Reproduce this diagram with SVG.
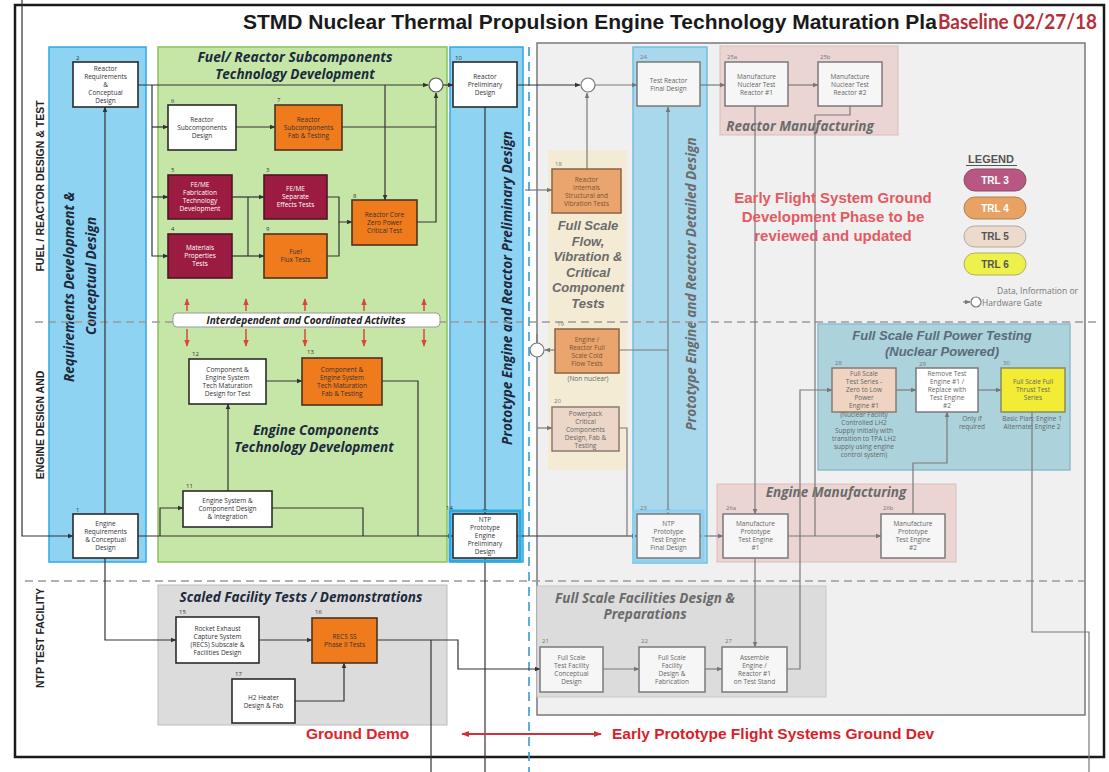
<svg xmlns="http://www.w3.org/2000/svg" width="1109" height="772" viewBox="0 0 1109 772">
<defs>
<style>
.lane{font-family:"Liberation Sans",Arial,sans-serif;font-weight:bold;font-size:10.5px;fill:#222;text-anchor:middle}
.sec{font-family:"Open Sans","Liberation Sans",sans-serif;font-weight:bold;font-style:italic;font-size:13.5px;fill:#1c2a3c;text-anchor:middle}
.sec2{font-family:"Liberation Sans",Arial,sans-serif;font-weight:bold;font-style:italic;font-size:13px;text-anchor:middle}
.secg{fill:#6b6b6b}
.nt{font-family:"Open Sans","Liberation Sans",sans-serif;font-size:6.5px;text-anchor:middle;fill:#333}
.ntw{fill:#fff}
.ntg{fill:#666}
.num{font-family:"Open Sans","Liberation Sans",sans-serif;font-size:6px;fill:#333}
.numg{fill:#777}
.bw{fill:#fff;stroke:#2b2b2b;stroke-width:1.6}
.bo{fill:#ef7b1c;stroke:#4a3420;stroke-width:1.6}
.bm{fill:#9b1c40;stroke:#4a1824;stroke-width:1.6}
.gw{fill:#f6f6f6;stroke:#7a7a7a;stroke-width:1.5}
.go{fill:#eaa56e;stroke:#8a6446;stroke-width:1.5}
.gp{fill:#ecd6c8;stroke:#8a7a70;stroke-width:1.5}
.gy{fill:#f3ec34;stroke:#8a8a60;stroke-width:1.5}
.c{fill:none;stroke:#333;stroke-width:1.2}
.cg{fill:none;stroke:#7a7a7a;stroke-width:1.2}
.gate{fill:#fff;stroke:#555;stroke-width:1.2}
.red{font-family:"Liberation Sans",Arial,sans-serif;font-weight:bold;font-size:15.5px;fill:#e0242c}
.efs{font-family:"Liberation Sans",Arial,sans-serif;font-weight:bold;font-size:15px;fill:#e25a62;text-anchor:middle}
.pill{font-family:"Liberation Sans",Arial,sans-serif;font-weight:bold;font-size:10px;text-anchor:middle}
</style>
<marker id="a" viewBox="0 0 10 10" refX="9" refY="5" markerWidth="6" markerHeight="6" markerUnits="userSpaceOnUse" orient="auto"><path d="M0,1 L10,5 L0,9 z" fill="#333"/></marker>
<marker id="ag" viewBox="0 0 10 10" refX="9" refY="5" markerWidth="6" markerHeight="6" markerUnits="userSpaceOnUse" orient="auto"><path d="M0,1 L10,5 L0,9 z" fill="#777"/></marker>
<marker id="ar" viewBox="0 0 10 10" refX="9" refY="5" markerWidth="8" markerHeight="8" markerUnits="userSpaceOnUse" orient="auto-start-reverse"><path d="M0,1 L10,5 L0,9 z" fill="#d0323c"/></marker>
<marker id="ar2" viewBox="0 0 10 10" refX="9" refY="5" markerWidth="7" markerHeight="7" markerUnits="userSpaceOnUse" orient="auto"><path d="M0,1 L10,5 L0,9 z" fill="#d9473a"/></marker>
</defs>

<rect x="0" y="0" width="1109" height="772" fill="#fff"/>

<!-- frame and title -->
<g id="frame">
<rect x="15" y="5" width="1089" height="752" fill="none" stroke="#1a1a1a" stroke-width="2.5"/>
<text x="243" y="28.5" font-family="Liberation Sans,Arial,sans-serif" font-weight="bold" font-size="21" fill="#1a1a1a">STMD Nuclear Thermal Propulsion Engine Technology Maturation Plan</text>
<rect x="937" y="10" width="163" height="28" fill="#fff"/>
<text x="938" y="28.5" font-family="Lato,Liberation Sans,sans-serif" font-weight="bold" font-size="20" fill="#b3303c" textLength="159" lengthAdjust="spacingAndGlyphs">Baseline 02/27/18</text>
</g>

<!-- right grey panel -->
<g id="panel-right">
<rect x="537" y="43" width="548" height="672" fill="#f0f0f0" stroke="#7a7a7a" stroke-width="1.5"/>
</g>

<!-- lane labels -->
<g id="lanes">
<text class="lane" transform="translate(44,186) rotate(-90)">FUEL / REACTOR DESIGN &amp; TEST</text>
<text class="lane" transform="translate(44,425) rotate(-90)">ENGINE DESIGN AND</text>
<text class="lane" transform="translate(44,638) rotate(-90)">NTP TEST FACILITY</text>
</g>

<!-- section backgrounds -->
<g id="sec-req">
<rect x="49" y="47" width="97" height="515" fill="#8fd3f3" stroke="#2ea9e0" stroke-width="1.5"/>
<text class="sec" transform="translate(74,287) rotate(-90)">Requirements Development &amp;</text>
<text class="sec" transform="translate(96,276) rotate(-90)">Conceptual Design</text>
</g>
<g id="sec-fuel">
<rect x="158" y="47" width="289" height="515" fill="#c6e6a8" stroke="#86c35a" stroke-width="1.5"/>
<text class="sec" x="295" y="62" textLength="195" lengthAdjust="spacingAndGlyphs">Fuel/ Reactor Subcomponents</text>
<text class="sec" x="295" y="79">Technology Development</text>
<text class="sec" x="316" y="435">Engine Components</text>
<text class="sec" x="314" y="452">Technology Development</text>
</g>
<g id="sec-prelim">
<rect x="450" y="47" width="73" height="515" fill="#8fd3f3" stroke="#2ea9e0" stroke-width="1.5"/>
<text class="sec" transform="translate(512,288) rotate(-90)">Prototype Engine and Reactor Preliminary Design</text>
</g>
<g id="sec-detail">
<rect x="633" y="47" width="74" height="516" fill="#a9d7ec" stroke="#74bde0" stroke-width="1.5"/>
<text class="sec secg" transform="translate(696,284) rotate(-90)">Prototype Engine and Reactor Detailed Design</text>
</g>
<g id="sec-flow">
<rect x="548" y="150" width="79" height="320" fill="#f4ebd5"/>
<text class="sec2 secg" x="588" y="230">Full Scale</text>
<text class="sec2 secg" x="588" y="245.6">Flow,</text>
<text class="sec2 secg" x="588" y="261.2">Vibration &amp;</text>
<text class="sec2 secg" x="588" y="276.8">Critical</text>
<text class="sec2 secg" x="588" y="292.4">Component</text>
<text class="sec2 secg" x="588" y="308">Tests</text>
</g>
<g id="sec-rmfg">
<rect x="720" y="46" width="178" height="89" fill="#ead5d3" stroke="#d9bdb9" stroke-width="1"/>
<text class="sec secg" x="800" y="131">Reactor Manufacturing</text>
</g>
<g id="sec-emfg">
<rect x="717" y="484" width="239" height="78" fill="#ead5d3" stroke="#d9bdb9" stroke-width="1"/>
<text class="sec secg" x="836" y="497">Engine Manufacturing</text>
</g>
<g id="sec-fullpower">
<rect x="818" y="324" width="252" height="146" fill="#acd2dc" stroke="#8dbccb" stroke-width="1.5"/>
<text class="sec2" x="942" y="340" fill="#5b6b7a">Full Scale Full Power Testing</text>
<text class="sec2" x="942" y="356" fill="#5b6b7a">(Nuclear Powered)</text>
</g>
<g id="sec-scaled">
<rect x="158" y="585" width="289" height="140" fill="#dcdcdc" stroke="#bdbdbd" stroke-width="1"/>
<text class="sec" x="301" y="602">Scaled Facility Tests / Demonstrations</text>
</g>
<g id="sec-facilities">
<rect x="537" y="586" width="289" height="111" fill="#dcdcdc" stroke="#c8c8c8" stroke-width="1"/>
<text class="sec secg" x="645" y="603">Full Scale Facilities Design &amp;</text>
<text class="sec secg" x="645" y="619">Preparations</text>
</g>

<!-- lane dividers -->
<g id="dividers" fill="none" stroke-width="1.6">
<path d="M35,322 H1100" stroke="#9a9a9a" stroke-dasharray="8,5"/>
<path d="M25,581 H1090" stroke="#9a9a9a" stroke-dasharray="8,5"/>
<path d="M529,47 V772" stroke="#3a98d8" stroke-dasharray="9,6"/>
</g>

<!-- connectors -->
<g id="connectors">
<path class="c" d="M22,0 V536 H73" marker-end="url(#a)"/>
<path class="c" d="M138,85 H428" marker-end="url(#a)"/>
<path class="c" d="M152,85 V256 H168" marker-end="url(#a)"/>
<path class="c" d="M152,127 H168" marker-end="url(#a)"/>
<path class="c" d="M152,197 H168" marker-end="url(#a)"/>
<path class="c" d="M236,127 H275" marker-end="url(#a)"/>
<path class="c" d="M342,127 H436"/>
<path class="c" d="M417,222 H436 V93" marker-end="url(#a)"/>
<path class="c" d="M385,85 V200" marker-end="url(#a)"/>
<path class="c" d="M232,197 H264" marker-end="url(#a)"/>
<path class="c" d="M248,197 V256"/>
<path class="c" d="M232,256 H264" marker-end="url(#a)"/>
<path class="c" d="M327,197 H339 V222 H352" marker-end="url(#a)"/>
<path class="c" d="M327,256 H339 V222"/>
<path class="c" d="M443,85 H453" marker-end="url(#a)"/>
<path class="c" d="M517,85 H580" marker-end="url(#a)"/>
<path class="c" d="M485,107 V514" marker-end="url(#a)"/>
<path class="c" d="M105,514 V107" marker-end="url(#a)"/>
<path class="c" d="M138,536 H453" marker-end="url(#a)"/>
<path class="c" d="M160,536 V508 H183" marker-end="url(#a)"/>
<path class="c" d="M228,491 V404" marker-end="url(#a)"/>
<path class="c" d="M266,381 H302" marker-end="url(#a)"/>
<path class="c" d="M382,381 H418 V536"/>
<path class="c" d="M272,508 H363 V536"/>
<path class="c" d="M105,558 V640 H176" marker-end="url(#a)"/>
<path class="c" d="M259,640 H312" marker-end="url(#a)"/>
<path class="c" d="M295,701 H344 V663" marker-end="url(#a)"/>
<path class="c" d="M377,640 H458 V669 H540" marker-end="url(#a)"/>
<path class="c" d="M431,640 V772"/>
<path class="c" d="M485,558 V772"/>
<path class="c" d="M517,536 H637" marker-end="url(#a)"/>
<path class="cg" d="M595,85 H637" marker-end="url(#ag)"/>
<path class="cg" d="M587,169 V93" marker-end="url(#ag)"/>
<path class="cg" d="M700,85 H725" marker-end="url(#ag)"/>
<path class="cg" d="M788,85 H818" marker-end="url(#ag)"/>
<path class="cg" d="M619,350 H668"/>
<path class="cg" d="M668,350 V107" marker-end="url(#ag)"/>
<path class="cg" d="M668,350 V514" marker-end="url(#ag)"/>
<path class="cg" d="M755,106 V514" marker-end="url(#ag)"/>
<path class="cg" d="M850,106 V115 H815 V536"/>
<path class="cg" d="M700,536 H723" marker-end="url(#ag)"/>
<path class="cg" d="M788,536 H881" marker-end="url(#ag)"/>
<path class="cg" d="M913,514 V463 H947 V412" marker-end="url(#ag)"/>
<path class="cg" d="M896,390 H916" marker-end="url(#ag)"/>
<path class="cg" d="M978,390 H1001" marker-end="url(#ag)"/>
<path class="cg" d="M1032,412 V632 H1089 V772" stroke="#555"/>
<path class="cg" d="M787,669 H800 V390 H832" marker-end="url(#ag)"/>
<path class="cg" d="M755,558 V647" marker-end="url(#ag)"/>
<path class="cg" d="M603,669 H639" marker-end="url(#ag)"/>
<path class="cg" d="M705,669 H722" marker-end="url(#ag)"/>
<path class="cg" d="M619,428 H627 V536"/>
<path class="cg" d="M525,190 H552" marker-end="url(#ag)"/>
<path class="cg" d="M537,428 H552" marker-end="url(#ag)"/>
<path class="cg" d="M555,350 H545" marker-end="url(#ag)"/>
<path class="cg" d="M537,343 V334"/>
<g stroke="#d9473a" stroke-width="1.5">
<path d="M187,311 V299" marker-end="url(#ar2)"/><path d="M187,329 V346" marker-end="url(#ar2)"/>
<path d="M246,311 V299" marker-end="url(#ar2)"/><path d="M246,329 V346" marker-end="url(#ar2)"/>
<path d="M305,311 V299" marker-end="url(#ar2)"/><path d="M305,329 V346" marker-end="url(#ar2)"/>
<path d="M364,311 V299" marker-end="url(#ar2)"/><path d="M364,329 V346" marker-end="url(#ar2)"/>
<path d="M424,311 V299" marker-end="url(#ar2)"/><path d="M424,329 V346" marker-end="url(#ar2)"/>
</g>
<path d="M462,734 H601" stroke="#d0323c" stroke-width="2" marker-start="url(#ar)" marker-end="url(#ar)"/>
</g>

<!-- gates -->
<g id="gate1"><circle class="gate" cx="436" cy="85" r="7"/></g>
<g id="gate2"><circle class="gate" cx="588" cy="85" r="7" style="stroke:#777"/></g>
<g id="gate3"><circle class="gate" cx="537" cy="350" r="7" style="stroke:#777"/></g>

<g id="banner">
<rect x="173" y="313" width="267" height="14" rx="4" fill="#fff" stroke="#999" stroke-width="1"/>
<text x="306" y="323.5" font-family="Open Sans,Liberation Sans,sans-serif" font-weight="bold" font-style="italic" font-size="10" fill="#222" text-anchor="middle">Interdependent and Coordinated Activites</text>
</g>

<!-- nodes -->
<g id="n2"><rect class="bw" x="73" y="62" width="65" height="45"/><text class="num" x="76" y="60">2</text>
<text class="nt" x="105.5" y="71">Reactor</text><text class="nt" x="105.5" y="79">Requirements</text><text class="nt" x="105.5" y="87">&amp;</text><text class="nt" x="105.5" y="95">Conceptual</text><text class="nt" x="105.5" y="103">Design</text></g>

<g id="n6"><rect class="bw" x="168" y="105" width="68" height="45"/><text class="num" x="171" y="103">6</text>
<text class="nt" x="202" y="122">Reactor</text><text class="nt" x="202" y="130">Subcomponents</text><text class="nt" x="202" y="138">Design</text></g>

<g id="n7"><rect class="bo" x="275" y="105" width="67" height="45"/><text class="num" x="277" y="102">7</text>
<text class="nt" x="308.5" y="122">Reactor</text><text class="nt" x="308.5" y="130">Subcomponents</text><text class="nt" x="308.5" y="138">Fab &amp; Testing</text></g>

<g id="n5"><rect class="bm" x="168" y="175" width="64" height="44"/><text class="num" x="171" y="172">5</text>
<text class="nt ntw" x="200" y="187">FE/ME</text><text class="nt ntw" x="200" y="195">Fabrication</text><text class="nt ntw" x="200" y="203">Technology</text><text class="nt ntw" x="200" y="211">Development</text></g>

<g id="n3"><rect class="bm" x="264" y="175" width="63" height="44"/><text class="num" x="266" y="172">3</text>
<text class="nt ntw" x="295.5" y="191">FE/ME</text><text class="nt ntw" x="295.5" y="199">Separate</text><text class="nt ntw" x="295.5" y="207">Effects Tests</text></g>

<g id="n4"><rect class="bm" x="168" y="234" width="64" height="44"/><text class="num" x="171" y="231">4</text>
<text class="nt ntw" x="200" y="250">Materials</text><text class="nt ntw" x="200" y="258">Properties</text><text class="nt ntw" x="200" y="266">Tests</text></g>

<g id="n9"><rect class="bo" x="264" y="234" width="63" height="44"/><text class="num" x="266" y="231">9</text>
<text class="nt" x="295.5" y="254">Fuel</text><text class="nt" x="295.5" y="262">Flux Tests</text></g>

<g id="n8"><rect class="bo" x="352" y="200" width="65" height="45"/><text class="num" x="353" y="198">8</text>
<text class="nt" x="384.5" y="217">Reactor Core</text><text class="nt" x="384.5" y="225">Zero Power</text><text class="nt" x="384.5" y="233">Critical Test</text></g>

<g id="n10"><rect class="bw" x="453" y="62" width="64" height="45"/><text class="num" x="455" y="60">10</text>
<text class="nt" x="485" y="79">Reactor</text><text class="nt" x="485" y="87">Preliminary</text><text class="nt" x="485" y="95">Design</text></g>

<g id="n24"><rect class="gw" x="637" y="62" width="63" height="44"/><text class="num numg" x="640" y="59">24</text>
<text class="nt ntg" x="668.5" y="83">Test Reactor</text><text class="nt ntg" x="668.5" y="91">Final Design</text></g>

<g id="n25a"><rect class="gw" x="725" y="62" width="63" height="44"/><text class="num numg" x="727" y="59">25a</text>
<text class="nt ntg" x="756.5" y="79">Manufacture</text><text class="nt ntg" x="756.5" y="87">Nuclear Test</text><text class="nt ntg" x="756.5" y="95">Reactor #1</text></g>

<g id="n25b"><rect class="gw" x="818" y="62" width="64" height="44"/><text class="num numg" x="820" y="59">25b</text>
<text class="nt ntg" x="850" y="79">Manufacture</text><text class="nt ntg" x="850" y="87">Nuclear Test</text><text class="nt ntg" x="850" y="95">Reactor #2</text></g>

<g id="n18"><rect class="go" x="552" y="169" width="69" height="44"/><text class="num numg" x="555" y="166">18</text>
<text class="nt" style="fill:#7a5234" x="586.5" y="182">Reactor</text><text class="nt" style="fill:#7a5234" x="586.5" y="190">Internals</text><text class="nt" style="fill:#7a5234" x="586.5" y="198">Structural and</text><text class="nt" style="fill:#7a5234" x="586.5" y="206">Vibration Tests</text></g>

<g id="n19"><rect class="go" x="555" y="329" width="64" height="44"/><text class="num numg" x="557" y="326">19</text>
<text class="nt" style="fill:#7a5234" x="587" y="342">Engine /</text><text class="nt" style="fill:#7a5234" x="587" y="350">Reactor Full</text><text class="nt" style="fill:#7a5234" x="587" y="358">Scale Cold</text><text class="nt" style="fill:#7a5234" x="587" y="366">Flow Tests</text>
<text class="nt ntg" x="588" y="381">(Non nuclear)</text></g>

<g id="n20"><rect class="gp" x="552" y="407" width="67" height="44"/><text class="num numg" x="554" y="403">20</text>
<text class="nt ntg" x="585.5" y="416">Powerpack</text><text class="nt ntg" x="585.5" y="424">Critical</text><text class="nt ntg" x="585.5" y="432">Components</text><text class="nt ntg" x="585.5" y="440">Design, Fab &amp;</text><text class="nt ntg" x="585.5" y="448">Testing</text></g>

<g id="n12"><rect class="bw" x="189" y="359" width="77" height="45"/><text class="num" x="192" y="356">12</text>
<text class="nt" x="227.5" y="372">Component &amp;</text><text class="nt" x="227.5" y="380">Engine System</text><text class="nt" x="227.5" y="388">Tech Maturation</text><text class="nt" x="227.5" y="396">Design for Test</text></g>

<g id="n13"><rect class="bo" x="302" y="358" width="80" height="47"/><text class="num" x="307" y="354">13</text>
<text class="nt" x="342" y="372">Component &amp;</text><text class="nt" x="342" y="380">Engine System</text><text class="nt" x="342" y="388">Tech Maturation</text><text class="nt" x="342" y="396">Fab &amp; Testing</text></g>

<g id="n11"><rect class="bw" x="183" y="491" width="89" height="36"/><text class="num" x="186" y="488">11</text>
<text class="nt" x="227.5" y="503">Engine System &amp;</text><text class="nt" x="227.5" y="511">Component Design</text><text class="nt" x="227.5" y="519">&amp; Integration</text></g>

<g id="n1"><rect class="bw" x="73" y="514" width="65" height="44"/><text class="num" x="76" y="512">1</text>
<text class="nt" x="105.5" y="526">Engine</text><text class="nt" x="105.5" y="534">Requirements</text><text class="nt" x="105.5" y="542">&amp; Conceptual</text><text class="nt" x="105.5" y="550">Design</text></g>

<g id="n14"><rect x="450" y="511" width="70" height="50" fill="none" stroke="#2ea9e0" stroke-width="3"/><rect class="bw" x="453" y="514" width="64" height="44"/><text class="num" x="446" y="510">14</text>
<text class="nt" x="485" y="522">NTP</text><text class="nt" x="485" y="530">Prototype</text><text class="nt" x="485" y="538">Engine</text><text class="nt" x="485" y="546">Preliminary</text><text class="nt" x="485" y="554">Design</text></g>

<g id="n23"><rect x="634" y="511" width="69" height="50" fill="none" stroke="#8fcfee" stroke-width="3"/><rect class="gw" x="637" y="514" width="63" height="44"/><text class="num numg" x="640" y="510">23</text>
<text class="nt ntg" x="668.5" y="526">NTP</text><text class="nt ntg" x="668.5" y="534">Prototype</text><text class="nt ntg" x="668.5" y="542">Test Engine</text><text class="nt ntg" x="668.5" y="550">Final Design</text></g>

<g id="n26a"><rect class="gw" x="723" y="514" width="65" height="44"/><text class="num numg" x="726" y="510">26a</text>
<text class="nt ntg" x="755.5" y="526">Manufacture</text><text class="nt ntg" x="755.5" y="534">Prototype</text><text class="nt ntg" x="755.5" y="542">Test Engine</text><text class="nt ntg" x="755.5" y="550">#1</text></g>

<g id="n26b"><rect class="gw" x="881" y="514" width="64" height="44"/><text class="num numg" x="883" y="510">26b</text>
<text class="nt ntg" x="913" y="526">Manufacture</text><text class="nt ntg" x="913" y="534">Prototype</text><text class="nt ntg" x="913" y="542">Test Engine</text><text class="nt ntg" x="913" y="550">#2</text></g>

<g id="n28"><rect class="gp" x="832" y="368" width="64" height="44" style="fill:#efd4c2"/><text class="num numg" x="835" y="365">28</text>
<text class="nt ntg" x="864" y="376">Full Scale</text><text class="nt ntg" x="864" y="384">Test Series -</text><text class="nt ntg" x="864" y="392">Zero to Low</text><text class="nt ntg" x="864" y="400">Power</text><text class="nt ntg" x="864" y="408">Engine #1</text>
<text class="nt ntg" x="864" y="417">(Nuclear Facility</text><text class="nt ntg" x="864" y="425">Controlled LH2</text><text class="nt ntg" x="864" y="433">Supply initially with</text><text class="nt ntg" x="864" y="441">transition to TPA LH2</text><text class="nt ntg" x="864" y="449">supply using engine</text><text class="nt ntg" x="864" y="457">control system)</text></g>

<g id="n29"><rect class="gw" x="916" y="368" width="62" height="44" style="fill:#fff"/><text class="num numg" x="919" y="365.5">29</text>
<text class="nt ntg" x="947" y="376">Remove Test</text><text class="nt ntg" x="947" y="384">Engine #1 /</text><text class="nt ntg" x="947" y="392">Replace with</text><text class="nt ntg" x="947" y="400">Test Engine</text><text class="nt ntg" x="947" y="408">#2</text>
<text class="nt ntg" x="972" y="421">Only if</text><text class="nt ntg" x="972" y="429">required</text></g>

<g id="n30"><rect class="gy" x="1001" y="368" width="64" height="44"/><text class="num numg" x="1003" y="365">30</text>
<text class="nt ntg" x="1033" y="384">Full Scale Full</text><text class="nt ntg" x="1033" y="392">Thrust Test</text><text class="nt ntg" x="1033" y="400">Series</text>
<text class="nt ntg" x="1032" y="421">Basic Plan: Engine 1</text><text class="nt ntg" x="1032" y="429">Alternate: Engine 2</text></g>

<g id="n21"><rect class="gw" x="540" y="647" width="63" height="45"/><text class="num numg" x="542" y="643">21</text>
<text class="nt ntg" x="571.5" y="660">Full Scale</text><text class="nt ntg" x="571.5" y="668">Test Facility</text><text class="nt ntg" x="571.5" y="676">Conceptual</text><text class="nt ntg" x="571.5" y="684">Design</text></g>

<g id="n22"><rect class="gw" x="639" y="647" width="66" height="45"/><text class="num numg" x="641" y="643">22</text>
<text class="nt ntg" x="672" y="660">Full Scale</text><text class="nt ntg" x="672" y="668">Facility</text><text class="nt ntg" x="672" y="676">Design &amp;</text><text class="nt ntg" x="672" y="684">Fabrication</text></g>

<g id="n27"><rect class="gw" x="722" y="647" width="65" height="45"/><text class="num numg" x="725" y="643">27</text>
<text class="nt ntg" x="754.5" y="660">Assemble</text><text class="nt ntg" x="754.5" y="668">Engine /</text><text class="nt ntg" x="754.5" y="676">Reactor #1</text><text class="nt ntg" x="754.5" y="684">on Test Stand</text></g>

<g id="n15"><rect class="bw" x="176" y="617" width="83" height="46"/><text class="num" x="179" y="614">15</text>
<text class="nt" x="217.5" y="631">Rocket Exhaust</text><text class="nt" x="217.5" y="639">Capture System</text><text class="nt" x="217.5" y="647">(RECS) Subscale &amp;</text><text class="nt" x="217.5" y="655">Facilities Design</text></g>

<g id="n16"><rect class="bo" x="312" y="618" width="65" height="45"/><text class="num" x="315" y="614">16</text>
<text class="nt" x="344.5" y="639">RECS SS</text><text class="nt" x="344.5" y="647">Phase II Tests</text></g>

<g id="n17"><rect class="bw" x="232" y="679" width="63" height="44"/><text class="num" x="235" y="676">17</text>
<text class="nt" x="263.5" y="700">H2 Heater</text><text class="nt" x="263.5" y="708">Design &amp; Fab</text></g>

<!-- legend -->
<g id="legend">
<text x="991" y="163" font-family="Liberation Sans,Arial,sans-serif" font-weight="bold" font-size="11" fill="#555" text-anchor="middle">LEGEND</text>
<line x1="966" y1="165.5" x2="1017" y2="165.5" stroke="#555" stroke-width="1"/>
<rect x="964" y="169" width="62" height="22" rx="11" fill="#b85882" stroke="#8a4a66"/>
<text class="pill" x="995" y="183.5" fill="#fff">TRL 3</text>
<rect x="964" y="197" width="62" height="22" rx="11" fill="#e8a263" stroke="#b08050"/>
<text class="pill" x="995" y="211.5" fill="#fff">TRL 4</text>
<rect x="964" y="226" width="62" height="21" rx="10.5" fill="#ecdbcd" stroke="#b0a8a0"/>
<text class="pill" x="995" y="240" fill="#555">TRL 5</text>
<rect x="964" y="253" width="62" height="22" rx="11" fill="#eef04c" stroke="#b0b060"/>
<text class="pill" x="995" y="267.5" fill="#555">TRL 6</text>
<path class="cg" d="M963,302 H970" marker-end="url(#ag)"/>
<circle cx="976" cy="302" r="5" fill="#fff" stroke="#777" stroke-width="1.2"/>
<text x="1078" y="294" font-family="Open Sans,Liberation Sans,sans-serif" font-size="8.5" fill="#777" text-anchor="end">Data, Information or</text>
<text x="982" y="305.5" font-family="Open Sans,Liberation Sans,sans-serif" font-size="8.5" fill="#777">Hardware Gate</text>
</g>

<g id="note">
<text class="efs" x="833" y="203">Early Flight System Ground</text>
<text class="efs" x="833" y="222">Development Phase to be</text>
<text class="efs" x="833" y="241">reviewed and updated</text>
</g>

<g id="footer">
<text class="red" x="306" y="739">Ground Demo</text>
<text class="red" x="612" y="739" style="fill:#d81e2a">Early Prototype Flight Systems Ground Dev</text>
</g>
</svg>
